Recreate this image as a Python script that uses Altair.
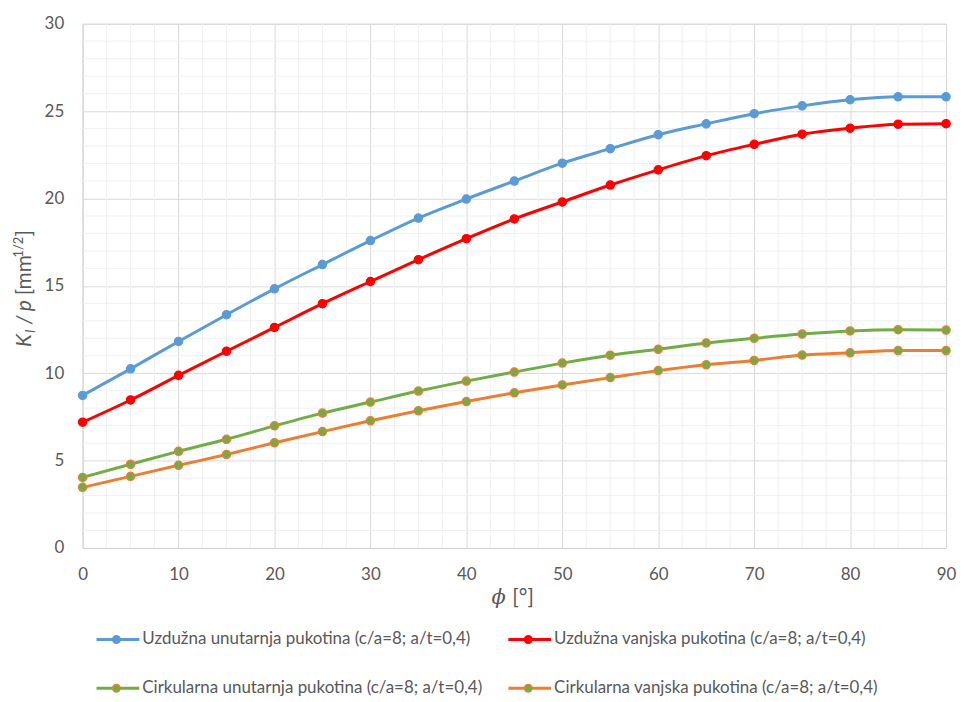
import altair as alt
import pandas as pd

# ---- data ----
phi = [0, 5, 10, 15, 20, 25, 30, 35, 40, 45, 50, 55, 60, 65, 70, 75, 80, 85, 90]
uzd_unut = [8.73, 10.25, 11.82, 13.35, 14.83, 16.22, 17.59, 18.88, 19.97, 21.0, 22.02, 22.85, 23.65, 24.27, 24.85, 25.3, 25.65, 25.82, 25.82]
uzd_vanj = [7.2, 8.47, 9.88, 11.26, 12.62, 13.98, 15.25, 16.5, 17.7, 18.83, 19.8, 20.77, 21.64, 22.45, 23.1, 23.68, 24.02, 24.25, 24.28]
cirk_unut = [4.04, 4.79, 5.53, 6.22, 6.99, 7.72, 8.35, 8.98, 9.55, 10.07, 10.58, 11.03, 11.37, 11.73, 12.0, 12.24, 12.42, 12.49, 12.47]
cirk_vanj = [3.47, 4.1, 4.73, 5.35, 6.02, 6.66, 7.28, 7.85, 8.38, 8.88, 9.33, 9.75, 10.15, 10.48, 10.73, 11.04, 11.17, 11.3, 11.3]

series_names = [
    "Uzdužna unutarnja pukotina (c/a=8; a/t=0,4)",
    "Uzdužna vanjska pukotina (c/a=8; a/t=0,4)",
    "Cirkularna unutarnja pukotina (c/a=8; a/t=0,4)",
    "Cirkularna vanjska pukotina (c/a=8; a/t=0,4)",
]
line_colors = ["#5b9bd5", "#ff0000", "#70ad47", "#ed7d31"]
point_fill = ["#5b9bd5", "#ff0000", "#70ad47", "#70ad47"]
point_stroke = ["#5b9bd5", "#ff0000", "#ed7d31", "#ed7d31"]

x_major = [0, 10, 20, 30, 40, 50, 60, 70, 80, 90]
y_major = [0, 5, 10, 15, 20, 25, 30]
x_minor = [v / 2 for v in range(0, 181, 5) if v % 20 != 0]
y_minor = [v for v in range(0, 31) if v % 5 != 0]

FONT = "Lato"
W, H = 868, 527

rows = []
for name, vals in zip(series_names, [uzd_unut, uzd_vanj, cirk_unut, cirk_vanj]):
    for p, v in zip(phi, vals):
        rows.append({"phi": p, "K": v, "serie": name})
df = pd.DataFrame(rows)

xs = alt.Scale(domain=[0, 90], nice=False)
ys = alt.Scale(domain=[0, 30], nice=False)

x_axis = alt.Axis(values=x_major, title=None, grid=True, gridColor="#d9d9d9", domainColor="#d0d0d0",
                  domainWidth=1.2, ticks=False, labelFont=FONT, labelFontSize=17, labelColor="#595959",
                  labelPadding=19, labelFlush=False)
y_axis = alt.Axis(values=y_major, title=None, grid=True, gridColor="#d9d9d9", domainColor="#d9d9d9",
                  ticks=False, labelFont=FONT, labelFontSize=17, labelColor="#595959", labelPadding=19,
                  labelFlush=False)

minor_x = alt.Chart(pd.DataFrame({"v": x_minor})).mark_rule(color="#f0f0f0", strokeWidth=1).encode(
    x=alt.X("v:Q", scale=xs, axis=x_axis))
minor_y = alt.Chart(pd.DataFrame({"v": y_minor})).mark_rule(color="#f0f0f0", strokeWidth=1).encode(
    y=alt.Y("v:Q", scale=ys, axis=y_axis))

color = alt.Color("serie:N", scale=alt.Scale(domain=series_names, range=line_colors), legend=None)
lines = alt.Chart(df).mark_line(strokeWidth=3, interpolate="monotone").encode(
    x=alt.X("phi:Q", scale=xs, axis=x_axis),
    y=alt.Y("K:Q", scale=ys, axis=y_axis),
    color=color,
)
points = alt.Chart(df).mark_point(filled=False, size=70, strokeWidth=1.2, opacity=1).encode(
    x=alt.X("phi:Q", scale=xs, axis=x_axis),
    y=alt.Y("K:Q", scale=ys, axis=y_axis),
    fill=alt.Fill("serie:N", scale=alt.Scale(domain=series_names, range=point_fill), legend=None),
    stroke=alt.Stroke("serie:N", scale=alt.Scale(domain=series_names, range=point_stroke), legend=None),
)

one = pd.DataFrame({"a": [0]})
layers = [minor_x, minor_y, lines, points]

# ---- custom legend (pixel positions relative to plot origin) ----
leg_pos = [(14, 619), (428, 619), (14, 668), (428, 668)]
for i, (lx, ly) in enumerate(leg_pos):
    layers.append(alt.Chart(one).mark_rule(strokeWidth=3, color=line_colors[i]).encode(
        x=alt.value(lx), x2=alt.value(lx + 43), y=alt.value(ly)))
    layers.append(alt.Chart(one).mark_point(filled=True, size=60, fill=point_fill[i], stroke=point_stroke[i],
                                             strokeWidth=1.2, opacity=1).encode(
        x=alt.value(lx + 20), y=alt.value(ly)))
    layers.append(alt.Chart(pd.DataFrame({"t": [series_names[i]]})).mark_text(
        align="left", baseline="middle", font=FONT, fontSize=17, color="#595959").encode(
        x=alt.value(lx + 46), y=alt.value(ly), text="t:N"))

# ---- axis titles built from pieces ----
def txt(s, x, y, size, italic=False, angle=0, font=FONT, baseline="alphabetic", align="left"):
    kw = dict(align=align, baseline=baseline, font=font, fontSize=size, color="#595959")
    if italic:
        kw["fontStyle"] = "italic"
    if angle:
        kw["angle"] = angle
    return alt.Chart(pd.DataFrame({"t": [s]})).mark_text(**kw).encode(
        x=alt.value(x), y=alt.value(y), text="t:N")

# x title: ϕ [°]
layers.append(txt("ϕ", 411, 583, 21, italic=True, font="DejaVu Serif"))
layers.append(txt("[°]", 432, 583, 21))
# y title: K_I /p [mm^1/2]
bx = -52
layers.append(txt("K", bx, 325, 21, italic=True, angle=270))
layers.append(txt("I", bx + 4, 311, 13, italic=True, angle=270))
layers.append(txt("/", bx, 302, 21, italic=True, angle=270))
layers.append(txt("p", bx, 289, 21, italic=True, angle=270))
layers.append(txt("[mm", bx, 273, 21, angle=270))
layers.append(txt("1/2", bx - 8, 235, 13, angle=270))
layers.append(txt("]", bx, 214, 21, angle=270))

chart = alt.layer(*layers).properties(
    width=W, height=H,
    padding={"left": 75, "top": 14, "right": 11, "bottom": 152},
    autosize=alt.AutoSizeParams(type="none"),
).configure_view(stroke=None).configure(background="white")

chart.save("out.html", embed_options={"renderer": "svg", "actions": False})
